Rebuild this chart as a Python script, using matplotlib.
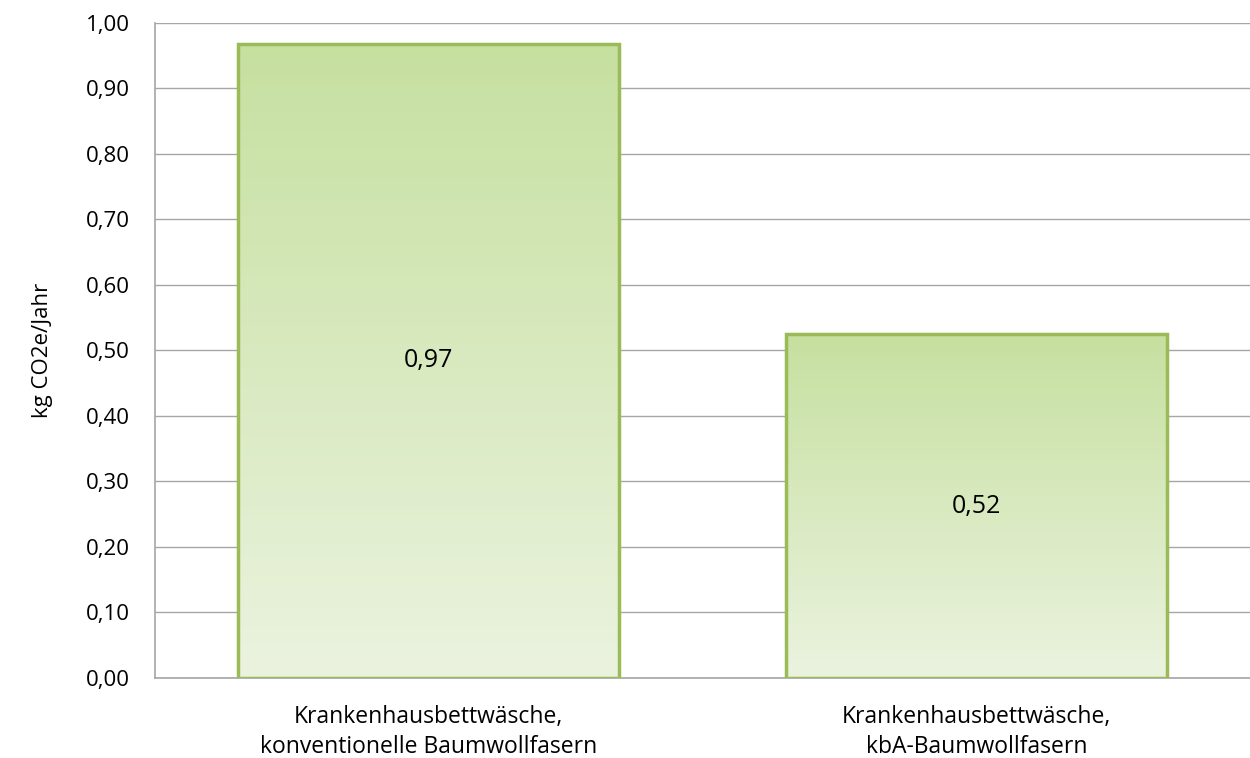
import numpy as np
import matplotlib.pyplot as plt
from matplotlib.colors import LinearSegmentedColormap

categories = ['Krankenhausbettwäsche,\nkonventionelle Baumwollfasern',
              'Krankenhausbettwäsche,\nkbA-Baumwollfasern']
values = [0.968, 0.524]
value_labels = ['0,97', '0,52']
yticks = np.arange(0, 1.01, 0.1)
ytick_labels = [f'{v:.2f}'.replace('.', ',') for v in yticks]

plt.rcParams['font.family'] = ['Open Sans', 'DejaVu Sans']

fig = plt.figure(figsize=(12.5, 7.58), dpi=100)
ax = fig.add_axes([0.124, 0.106, 0.876, 0.864])

x = np.arange(len(categories))
bars = ax.bar(x, values, width=0.695, color='none', edgecolor='#9BBB59',
              linewidth=2.5, zorder=3)

# vertical gradient fill, light at bottom, stronger green at top
cmap = LinearSegmentedColormap.from_list('g', ['#EBF3DF', '#C6E0A0'])
grad = np.linspace(0, 1, 256).reshape(-1, 1)
for b in bars:
    x0, y0 = b.get_x(), b.get_y()
    w, h = b.get_width(), b.get_height()
    im = ax.imshow(grad, cmap=cmap, aspect='auto', origin='lower',
                   extent=[x0, x0 + w, y0, y0 + h], zorder=2)
    im.set_clip_path(b)

for xi, v, lab in zip(x, values, value_labels):
    ax.text(xi, v / 2, lab, ha='center', va='center', fontsize=18, zorder=4)

ax.set_xlim(-0.5, 1.5)
ax.set_ylim(0, 1.0)
ax.set_yticks(yticks)
ax.set_yticklabels(ytick_labels, fontsize=16)
ax.set_xticks(x)
ax.set_xticklabels(categories, fontsize=16.5, linespacing=1.3)
ax.tick_params(axis='y', length=0, pad=18)
ax.tick_params(axis='x', length=0, pad=20)
ax.set_ylabel('kg CO2e/Jahr', fontsize=16, labelpad=24)

ax.yaxis.grid(True, color='#A6A6A6', linewidth=1)
ax.set_axisbelow(True)
for s in ['top', 'right']:
    ax.spines[s].set_visible(False)
for s in ['left', 'bottom']:
    ax.spines[s].set_color('#A6A6A6')
    ax.spines[s].set_linewidth(1.2)

fig.savefig('out.png', dpi=100)
